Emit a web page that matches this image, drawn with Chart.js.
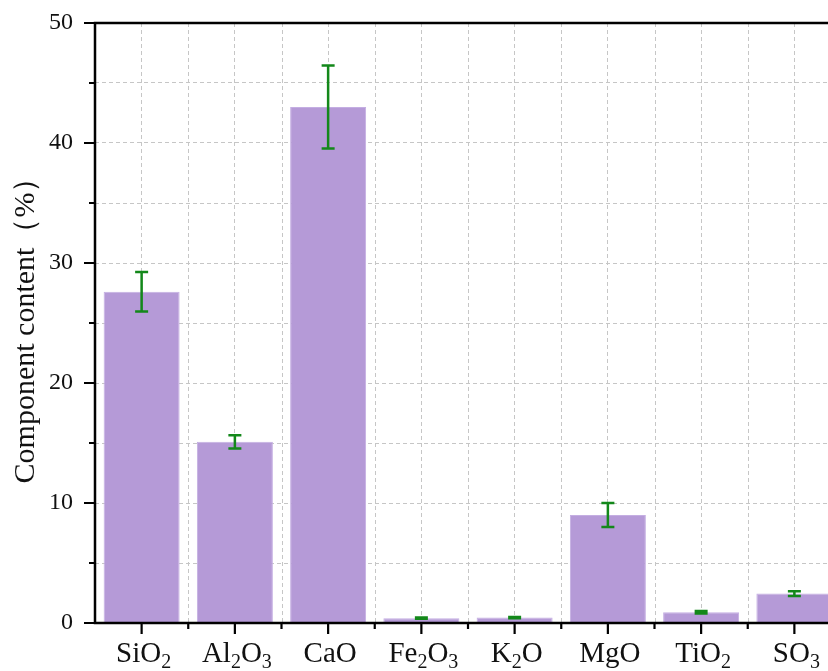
<!DOCTYPE html>
<html>
<head>
<meta charset="utf-8">
<script src="https://cdn.jsdelivr.net/npm/chart.js@4"></script>
<style>
  html, body { margin: 0; padding: 0; background: #fff; overflow: hidden; }
  #wrap { width: 850px; height: 671px; }
</style>
</head>
<body>
<div id="wrap"><canvas id="myChart" width="850" height="671"></canvas></div>
<script>
// oxide composition, mean and +/- deviation (%)
var categories = ['SiO2', 'Al2O3', 'CaO', 'Fe2O3', 'K2O', 'MgO', 'TiO2', 'SO3'];
var values = [27.6, 15.1, 43.0, 0.4, 0.45, 9.0, 0.9, 2.45];
var errors = [1.65, 0.55, 3.45, 0.05, 0.05, 1.0, 0.1, 0.2];
var yTicks = [0, 10, 20, 30, 40, 50];

var serif = '"Liberation Serif", "Times New Roman", serif';
var ink = '#111';

var extras = {
    id: 'extras',
    // dashed lines between the categories
    beforeDatasetsDraw: function (chart) {
        var x = chart.scales.x, a = chart.chartArea, ctx = chart.ctx;
        ctx.save();
        ctx.strokeStyle = '#c6c6c6';
        ctx.lineWidth = 1;
        ctx.setLineDash([4, 3]);
        for (var i = 0; i < categories.length; i++) {
            var bx = x.getPixelForValue(i) + (x.getPixelForValue(1) - x.getPixelForValue(0)) / 2;
            ctx.beginPath();
            ctx.moveTo(Math.round(bx) + 0.5, a.top);
            ctx.lineTo(Math.round(bx) + 0.5, a.bottom);
            ctx.stroke();
        }
        ctx.restore();
    },
    // error bars
    afterDatasetsDraw: function (chart) {
        var y = chart.scales.y, ctx = chart.ctx;
        var bars = chart.getDatasetMeta(0).data;
        ctx.save();
        ctx.strokeStyle = '#13881a';
        ctx.lineWidth = 2.5;
        bars.forEach(function (bar, i) {
            var hi = y.getPixelForValue(values[i] + errors[i]);
            var lo = y.getPixelForValue(values[i] - errors[i]);
            ctx.beginPath();
            ctx.moveTo(bar.x, hi);
            ctx.lineTo(bar.x, lo);
            ctx.moveTo(bar.x - 6.5, hi);
            ctx.lineTo(bar.x + 6.5, hi);
            ctx.moveTo(bar.x - 6.5, lo);
            ctx.lineTo(bar.x + 6.5, lo);
            ctx.stroke();
        });
        ctx.restore();
    },
    // frame, tick marks and formula labels
    afterDraw: function (chart) {
        var x = chart.scales.x, y = chart.scales.y, a = chart.chartArea, ctx = chart.ctx;
        ctx.save();
        ctx.strokeStyle = '#000';
        ctx.lineWidth = 2.5;
        ctx.beginPath();
        ctx.rect(a.left, a.top, a.right - a.left, a.bottom - a.top);
        ctx.stroke();

        ctx.lineWidth = 2.2;
        ctx.beginPath();
        for (var v = 0; v <= 50; v += 5) {
            var py = y.getPixelForValue(v);
            var len = v % 10 === 0 ? 11 : 6;
            ctx.moveTo(a.left, py);
            ctx.lineTo(a.left - len, py);
        }
        var step = x.getPixelForValue(1) - x.getPixelForValue(0);
        for (var i = 0; i < categories.length; i++) {
            var cx = x.getPixelForValue(i);
            ctx.moveTo(cx, a.bottom);
            ctx.lineTo(cx, a.bottom + 11);
            ctx.moveTo(cx + step / 2, a.bottom);
            ctx.lineTo(cx + step / 2, a.bottom + 6);
        }
        ctx.stroke();

        ctx.fillStyle = ink;
        ctx.textBaseline = 'alphabetic';
        ctx.textAlign = 'left';
        var mainFont = '29px ' + serif, subFont = '20px ' + serif;
        categories.forEach(function (name, i) {
            var parts = name.match(/[A-Za-z]+|\d+/g);
            var widths = parts.map(function (p) {
                ctx.font = /\d/.test(p) ? subFont : mainFont;
                return ctx.measureText(p).width;
            });
            var total = widths.reduce(function (s, w) { return s + w; }, 0);
            var px = x.getPixelForValue(i) - total / 2 + 2;
            parts.forEach(function (p, k) {
                var sub = /\d/.test(p);
                ctx.font = sub ? subFont : mainFont;
                ctx.fillText(p, px, sub ? 668 : 662);
                px += widths[k];
            });
        });
        ctx.restore();
    }
};

var ctx = document.getElementById('myChart').getContext('2d');
var myChart = new Chart(ctx, {
    type: 'bar',
    data: {
        labels: categories,
        datasets: [{
            label: 'Component content',
            data: values,
            backgroundColor: '#b59ad7',
            borderColor: '#c4aee2',
            borderWidth: 1,
            categoryPercentage: 1,
            barPercentage: 0.815
        }]
    },
    options: {
        responsive: false,
        animation: false,
        devicePixelRatio: 1,
        layout: { padding: { top: 23, right: 9, left: 0, bottom: 0 } },
        plugins: {
            legend: { display: false },
            tooltip: { enabled: false }
        },
        scales: {
            x: {
                grid: {
                    offset: false,
                    color: '#c6c6c6',
                    lineWidth: 1,
                    drawTicks: false
                },
                border: { display: false, dash: [4, 3] },
                ticks: { display: false },
                afterFit: function (scale) { scale.height = 48; }
            },
            y: {
                min: 0,
                max: 50,
                grid: {
                    color: '#c6c6c6',
                    lineWidth: 1,
                    drawTicks: true,
                    tickLength: 22,
                    tickColor: 'rgba(0,0,0,0)'
                },
                border: { display: false, dash: [4, 3] },
                ticks: {
                    stepSize: 5,
                    padding: 0,
                    color: ink,
                    font: { family: serif, size: 24 },
                    callback: function (v) { return yTicks.indexOf(v) >= 0 ? String(v) : ''; }
                },
                title: {
                    display: true,
                    text: 'Component content（%）',
                    color: ink,
                    padding: { top: 8, bottom: 0 },
                    font: { family: serif, size: 30 }
                },
                afterFit: function (scale) { scale.width = 95; }
            }
        }
    },
    plugins: [extras]
});
</script>
</body>
</html>
